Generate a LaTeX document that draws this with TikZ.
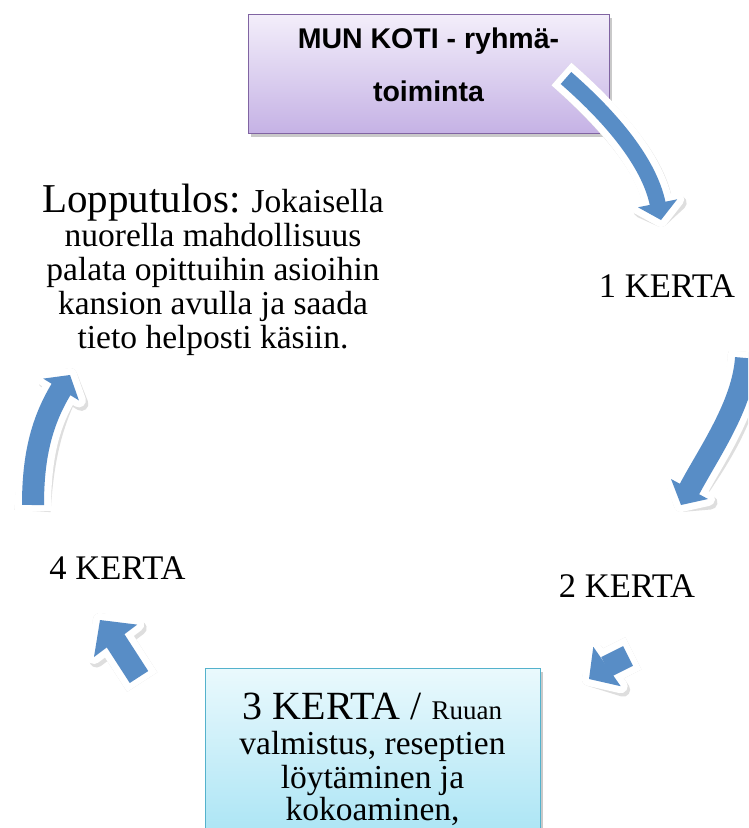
\documentclass[tikz,border=0pt]{standalone}
\usepackage{fontspec}
\setmainfont{Liberation Serif}
\newfontfamily\hsans{Liberation Sans}
\usetikzlibrary{shadows}
\definecolor{arrblue}{RGB}{88,141,198}
\definecolor{arrshadow}{RGB}{222,222,222}
\definecolor{topA}{RGB}{243,238,250}
\definecolor{topB}{RGB}{197,178,229}
\definecolor{topE}{RGB}{128,100,162}
\definecolor{botA}{RGB}{234,249,253}
\definecolor{botB}{RGB}{166,227,244}
\definecolor{botE}{RGB}{84,178,204}
\tikzset{
  body/.style={anchor=base, inner sep=0pt, font=\fontsize{33.5}{38}\selectfont},
  kerta/.style={anchor=base, inner sep=0pt, font=\fontsize{34.5}{40}\selectfont},
  boxshadow/.style={drop shadow={shadow xshift=2pt, shadow yshift=-3pt, opacity=.35, fill=black!60}},
}
% #1 shaft path, #2 shaft width, #3 head corner, #4 tip, #5 head corner
\newcommand{\blockarrow}[5]{%
  \begin{scope}[shift={(2.5,3.5)}]
    \draw[arrshadow, line width=#2pt+14pt, shorten <=-6pt] #1;
    \filldraw[arrshadow, line width=14pt, line join=round] #3 -- #4 -- #5 -- cycle;
  \end{scope}
  \draw[white, line width=#2pt+14pt, shorten <=-6pt] #1;
  \filldraw[white, line width=14pt, line join=round] #3 -- #4 -- #5 -- cycle;
  \draw[arrblue, line width=#2pt, shorten >=-1pt] #1;
  \fill[arrblue] #3 -- #4 -- #5 -- cycle;
}
\begin{document}
\begin{tikzpicture}[x=1pt, y=-1pt]
\useasboundingbox (0,0) rectangle (748,828);
\clip (0,0) rectangle (748,828);
\fill[white] (0,0) rectangle (748,828);

% top box
\node[boxshadow, draw=topE, line width=1.3pt, top color=topA, bottom color=topB,
  minimum width=361pt, minimum height=119pt, inner sep=0pt, anchor=north west] (topbox) at (248,14) {};
\node[anchor=base, inner sep=0pt, font=\hsans\bfseries\fontsize{28.5}{32}\selectfont] (toptxt1) at (428.5,48) {MUN KOTI - ryhmä-};
\node[anchor=base, inner sep=0pt, font=\hsans\bfseries\fontsize{28.5}{32}\selectfont] (toptxt2) at (428.5,101) {toiminta};

% bottom box
\node[boxshadow, draw=botE, line width=1.3pt, top color=botA, bottom color=botB,
  minimum width=335pt, minimum height=180pt, inner sep=0pt, anchor=north west] (box3) at (205,668) {};
\node[anchor=base, inner sep=0pt] (b1) at (372.5,719) {\fontsize{40}{44}\selectfont 3 KERTA / \fontsize{27}{30}\selectfont Ruuan};
\node[body] (b2) at (372.5,754) {valmistus, reseptien};
\node[body] (b3) at (372.5,788) {löytäminen ja};
\node[body] (b4) at (372.5,820) {kokoaminen,};

% result text
\node[anchor=base, inner sep=0pt] (l1) at (213,212) {\fontsize{41}{44}\selectfont Lopputulos:\fontsize{33.5}{38}\selectfont{} Jokaisella};
\node[body] (l2) at (213,246) {nuorella mahdollisuus};
\node[body] (l3) at (213,280) {palata opittuihin asioihin};
\node[body] (l4) at (213,314) {kansion avulla ja saada};
\node[body] (l5) at (213,348) {tieto helposti käsiin.};

% kerta labels
\node[kerta] (k1) at (667,297) {1 KERTA};
\node[kerta] (k2) at (627,597) {2 KERTA};
\node[kerta] (k4) at (117.5,579) {4 KERTA};

% arrow coordinates
\coordinate (a1s) at (566,78);
\coordinate (a1m) at (657.6,203.3);
\coordinate (a1t) at (661,220);
\coordinate (a2s) at (746,358);
\coordinate (a2m) at (689.5,489);
\coordinate (a2t) at (681,505);
\coordinate (a3s) at (628,656);
\coordinate (a3m) at (607,666.5);
\coordinate (a3t) at (589,679);
\coordinate (a4s) at (139,677);
\coordinate (a4m) at (115.6,640.8);
\coordinate (a4t) at (100,620);
\coordinate (a5s) at (33,505);
\coordinate (a5m) at (61,389.5);
\coordinate (a5t) at (70,375);

\blockarrow{(a1s) .. controls (605,112) and (648.6,159) .. (a1m)}{16}{(677.2,199.3)}{(a1t)}{(638,207.3)}
\blockarrow{(a2s) .. controls (743,405) and (708,454) .. (a2m)}{22}{(708,499)}{(a2t)}{(671,479)}
\blockarrow{(a3s) -- (a3m)}{22}{(620.7,686.2)}{(a3t)}{(593.3,646.8)}
\blockarrow{(a4s) -- (a4m)}{22}{(137.2,624.6)}{(a4t)}{(94,657)}
\blockarrow{(a5s) .. controls (33,460) and (40.2,423.5) .. (a5m)}{22}{(78.9,400.4)}{(a5t)}{(43.2,378.6)}
\end{tikzpicture}
\end{document}
